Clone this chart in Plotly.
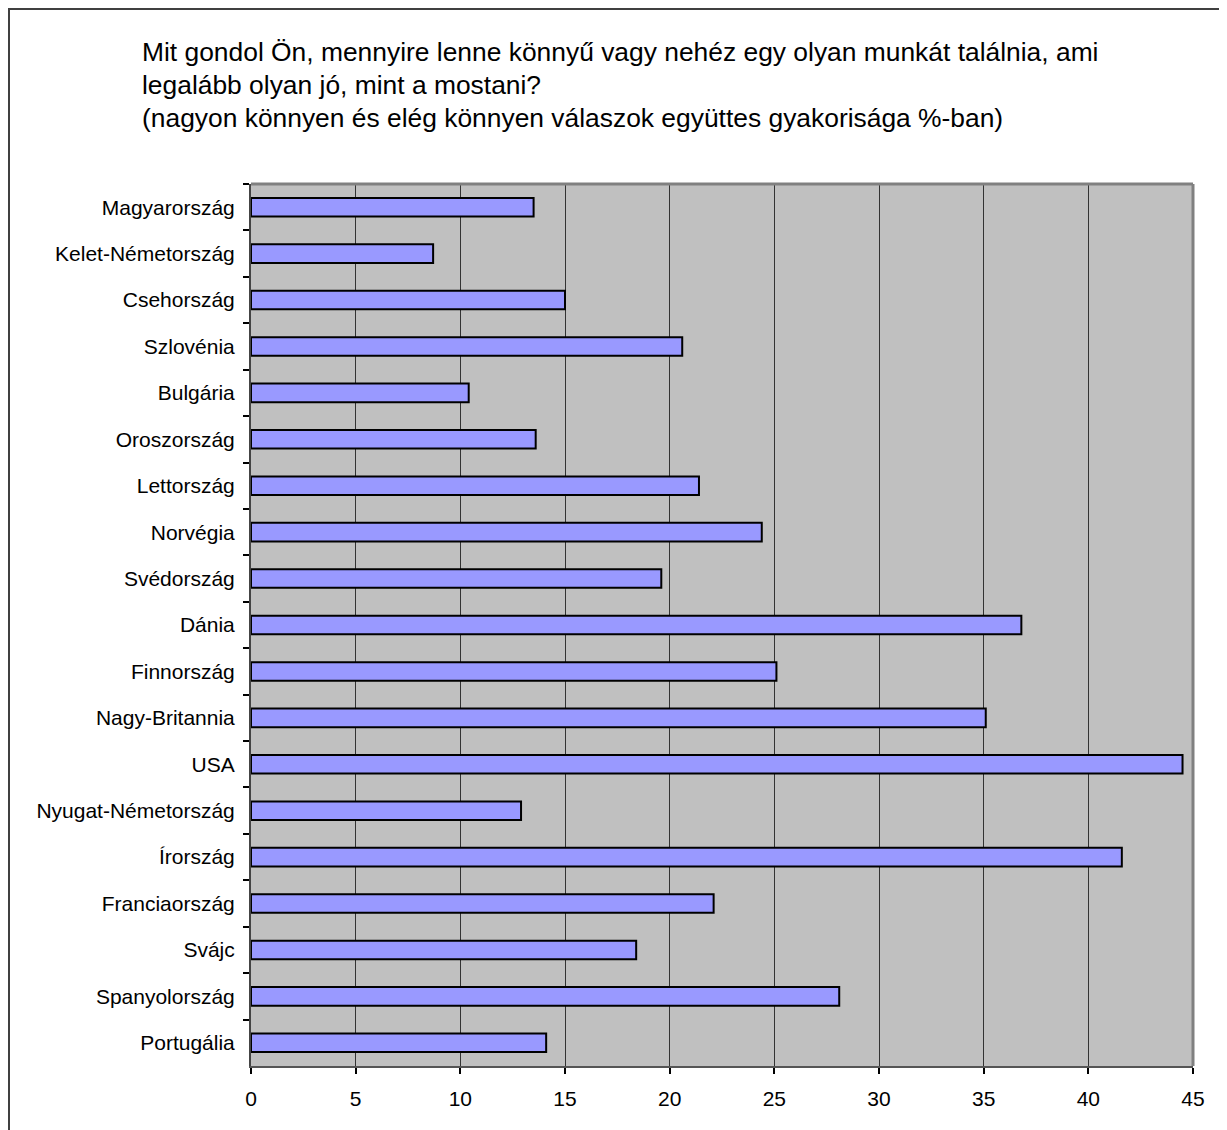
import plotly.graph_objects as go

countries = [
    "Magyarország", "Kelet-Németország", "Csehország", "Szlovénia", "Bulgária",
    "Oroszország", "Lettország", "Norvégia", "Svédország", "Dánia",
    "Finnország", "Nagy-Britannia", "USA", "Nyugat-Németország", "Írország",
    "Franciaország", "Svájc", "Spanyolország", "Portugália",
]
values = [13.5, 8.7, 15.0, 20.6, 10.4, 13.6, 21.4, 24.4, 19.6, 36.8,
          25.1, 35.1, 44.5, 12.9, 41.6, 22.1, 18.4, 28.1, 14.1]
x_ticks = [0, 5, 10, 15, 20, 25, 30, 35, 40, 45]
title_lines = [
    "Mit gondol Ön, mennyire lenne könnyű vagy nehéz egy olyan munkát találnia, ami",
    "legalább olyan jó, mint a mostani?",
    "(nagyon könnyen és elég könnyen válaszok együttes gyakorisága %-ban)",
]

# page body has an 8px margin, so the figure is laid out 8px smaller
OFF = 8
W, H = 1227 - OFF, 1130 - OFF
L, T = 251 - OFF, 184 - OFF
PW, PH = 942, 882
R, B = W - L - PW, H - T - PH

def px_x(p):  # page pixel -> paper
    return (p - OFF - L) / PW

def px_y(p):
    return (T + PH - (p - OFF)) / PH

FONT = "Arial, Liberation Sans, sans-serif"

fig = go.Figure(go.Bar(
    x=values, y=countries, orientation="h",
    marker=dict(color="#9999FF", line=dict(color="black", width=2)),
    width=0.4,
))

fig.update_layout(
    width=W, height=H,
    margin=dict(l=L, r=R, t=T, b=B, pad=0),
    paper_bgcolor="white", plot_bgcolor="#C0C0C0",
    showlegend=False,
    font=dict(family=FONT, size=21, color="black"),
)
fig.update_xaxes(
    range=[0, 45], tickvals=x_ticks, ticktext=[str(v) for v in x_ticks],
    showgrid=True, gridcolor="#333333", gridwidth=1,
    showline=True, linecolor="#555555", linewidth=2, mirror=False,
    ticks="outside", ticklen=6, tickcolor="black", tickwidth=1.5,
    ticklabelstandoff=7,
    zeroline=False,
    tickfont=dict(family=FONT, size=21),
)
fig.update_yaxes(
    categoryorder="array", categoryarray=countries, autorange="reversed",
    showgrid=False,
    showline=True, linecolor="#444444", linewidth=2,
    ticks="outside", ticklen=6, tickcolor="black", tickwidth=1.5,
    tickson="boundaries", ticklabelstandoff=10,
    tickfont=dict(family=FONT, size=21),
)

# gray plot-area border (top/right)
fig.add_shape(type="line", xref="paper", yref="paper", x0=0, x1=1, y0=1, y1=1,
              line=dict(color="#808080", width=3))
fig.add_shape(type="line", xref="paper", yref="paper", x0=1, x1=1, y0=0, y1=1,
              line=dict(color="#808080", width=3))

# outer chart frame
fig.add_shape(type="rect", xref="paper", yref="paper",
              x0=px_x(9), x1=px_x(1260), y0=px_y(1160), y1=px_y(9),
              line=dict(color="#404040", width=2), fillcolor="rgba(0,0,0,0)")

for line, yc in zip(title_lines, [52, 85, 118]):
    fig.add_annotation(text=line, xref="paper", yref="paper",
                       x=px_x(140), y=px_y(yc), xanchor="left", yanchor="middle",
                       showarrow=False, font=dict(family=FONT, size=26.4, color="black"))

fig.write_html("out.html")
